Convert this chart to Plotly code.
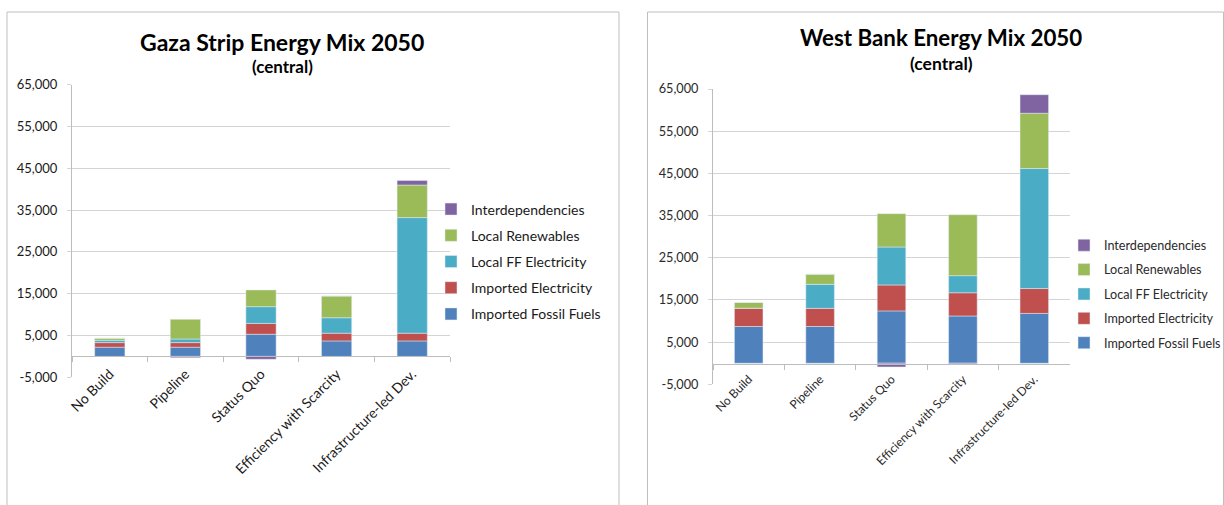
import plotly.graph_objects as go

# Scenario categories shared by both regions
scenarios = ["No Build", "Pipeline", "Status Quo", "Efficiency with Scarcity", "Infrastructure-led Dev."]

# Series names, stacked bottom to top
series_names = ["Imported Fossil Fuels", "Imported Electricity", "Local FF Electricity",
                "Local Renewables", "Interdependencies"]
series_colors = ["#4F81BD", "#C0504D", "#4BACC6", "#9BBB59", "#8064A2"]

# Gaza Strip 2050 energy mix (central case)
gaza_imported_fossil = [2200, 2200, 5300, 3700, 3700]
gaza_imported_elec = [1100, 1100, 2600, 1850, 1850]
gaza_local_ff = [550, 860, 4000, 3700, 27650]
gaza_renewables = [500, 4700, 4000, 5200, 7800]
gaza_interdep = [0, -300, -700, 0, 1100]

# West Bank 2050 energy mix (central case)
wb_imported_fossil = [8700, 8700, 12400, 11200, 11800]
wb_imported_elec = [4350, 4300, 6150, 5500, 5900]
wb_local_ff = [0, 5700, 9000, 4050, 28450]
wb_renewables = [1350, 2400, 7900, 14450, 13100]
wb_interdep = [0, 0, -900, -200, 4400]

# Value axis ticks
y_tickvals = [-5000, 5000, 15000, 25000, 35000, 45000, 55000, 65000]
y_ticktext = ["-5,000", "5,000", "15,000", "25,000", "35,000", "45,000", "55,000", "65,000"]

W, H = 1224, 505
FONT = "Lato"
GRID = "#d4d4d4"
AXIS = "#bdbdbd"

gaza_series = [gaza_imported_fossil, gaza_imported_elec, gaza_local_ff, gaza_renewables, gaza_interdep]
wb_series = [wb_imported_fossil, wb_imported_elec, wb_local_ff, wb_renewables, wb_interdep]

fig = go.Figure()

# Legend lists the top of the stack first
n = len(series_names)
for i, (name, color) in enumerate(zip(series_names, series_colors)):
    fig.add_trace(go.Bar(
        x=scenarios, y=gaza_series[i], name=name, marker_color=color,
        xaxis="x", yaxis="y", legend="legend", legendgroup="g" + str(i),
        legendrank=n - i,
    ))
for i, (name, color) in enumerate(zip(series_names, series_colors)):
    fig.add_trace(go.Bar(
        x=scenarios, y=wb_series[i], name=name, marker_color=color,
        xaxis="x2", yaxis="y2", legend="legend2", legendgroup="w" + str(i),
        legendrank=n - i,
    ))


def px_x(v):
    return v / W


def px_y(v):
    return 1 - v / H


def value_axis(domain, anchor, size, color):
    return dict(
        domain=domain, anchor=anchor, range=[-5000, 65000],
        tickvals=y_tickvals, ticktext=y_ticktext,
        showgrid=True, gridcolor=GRID, gridwidth=1,
        showline=True, linecolor=AXIS, linewidth=1,
        ticks="outside", ticklen=4, tickcolor=GRID,
        ticklabelstandoff=7,
        zeroline=False, fixedrange=True,
        tickfont=dict(family=FONT, size=size, color=color),
    )


def category_axis(domain, pos, size, color):
    return dict(
        domain=domain, anchor="free", position=pos,
        type="category", tickangle=-45,
        showgrid=False, showline=True, linecolor=AXIS, linewidth=1,
        ticks="outside", tickson="boundaries", ticklen=5, tickcolor=AXIS,
        ticklabelstandoff=3,
        zeroline=False, fixedrange=True,
        tickfont=dict(family=FONT, size=size, color=color),
    )


gaza_y_dom = [px_y(377.3), px_y(84.7)]
wb_y_dom = [px_y(384.3), px_y(89.0)]

fig.update_layout(
    width=W, height=H,
    margin=dict(l=0, r=0, t=0, b=0, autoexpand=False),
    paper_bgcolor="white", plot_bgcolor="white",
    barmode="relative", bargap=0.6,
    showlegend=True,
    xaxis=category_axis([px_x(72), px_x(450)], px_y(356.4), 14, "#1a1a1a"),
    yaxis=value_axis(gaza_y_dom, "x", 13, "#1a1a1a"),
    xaxis2=category_axis([px_x(713), px_x(1070)], px_y(363.6), 12, "#2a2a2a"),
    yaxis2=value_axis(wb_y_dom, "x2", 12.7, "#2a2a2a"),
    legend=dict(
        xref="container", yref="container",
        x=px_x(431), y=px_y(193.5), xanchor="left", yanchor="top",
        traceorder="grouped", tracegroupgap=5,
        font=dict(family=FONT, size=14, color="#1a1a1a"),
        bgcolor="rgba(0,0,0,0)", itemclick=False, itemdoubleclick=False,
    ),
    legend2=dict(
        xref="container", yref="container",
        x=px_x(1064), y=px_y(230.5), xanchor="left", yanchor="top",
        traceorder="grouped", tracegroupgap=5,
        font=dict(family=FONT, size=12.6, color="#2a2a2a"),
        bgcolor="rgba(0,0,0,0)", itemclick=False, itemdoubleclick=False,
    ),
    shapes=[
        dict(type="rect", xref="paper", yref="paper",
             x0=px_x(7), x1=px_x(619), y0=px_y(520), y1=px_y(12),
             line=dict(color="#bfbfbf", width=1), fillcolor="rgba(0,0,0,0)", layer="below"),
        dict(type="rect", xref="paper", yref="paper",
             x0=px_x(647.5), x1=px_x(1223.5), y0=px_y(520), y1=px_y(12),
             line=dict(color="#bfbfbf", width=1), fillcolor="rgba(0,0,0,0)", layer="below"),
    ],
    annotations=[
        dict(text="<b>Gaza Strip Energy Mix 2050</b>", x=px_x(282), y=px_y(42),
             xref="paper", yref="paper", showarrow=False, xanchor="center", yanchor="middle",
             font=dict(family=FONT, size=23, color="#000000")),
        dict(text="<b>(central)</b>", x=px_x(282), y=px_y(66.5),
             xref="paper", yref="paper", showarrow=False, xanchor="center", yanchor="middle",
             font=dict(family=FONT, size=17, color="#000000")),
        dict(text="<b>West Bank Energy Mix 2050</b>", x=px_x(941), y=px_y(38),
             xref="paper", yref="paper", showarrow=False, xanchor="center", yanchor="middle",
             font=dict(family=FONT, size=22.3, color="#000000")),
        dict(text="<b>(central)</b>", x=px_x(941), y=px_y(63.5),
             xref="paper", yref="paper", showarrow=False, xanchor="center", yanchor="middle",
             font=dict(family=FONT, size=17.5, color="#000000")),
    ],
)

fig.write_html("out.html", config={"displayModeBar": False})
